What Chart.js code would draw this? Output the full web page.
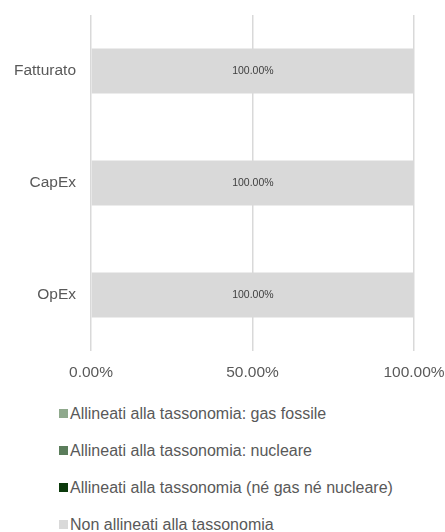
<!DOCTYPE html>
<html>
<head>
<meta charset="utf-8">
<script src="https://cdn.jsdelivr.net/npm/chart.js@4"></script>
<style>
    body { margin: 0; background: #fff; }
    #wrap { position: relative; width: 445px; height: 532px; }
    #box { position: absolute; left: 0; top: 0; width: 445px; height: 392px; }
    #legenda { position: absolute; left: 59px; top: 403px; font-family: "Liberation Sans", Arial, sans-serif; font-size: 16px; color: #595959; }
    .voce { height: 37px; line-height: 22px; white-space: nowrap; }
    .voce span.q { display: inline-block; width: 9px; height: 9px; margin-right: 2px; vertical-align: 1px; }
</style>
</head>
<body>
<div id="wrap">
    <div id="box"><canvas id="grafico"></canvas></div>
    <div id="legenda"></div>
</div>
<script>
// Dati del grafico
const categorie = ['Fatturato', 'CapEx', 'OpEx'];
const gasFossile = [0, 0, 0];
const nucleare = [0, 0, 0];
const neGasNeNucleare = [0, 0, 0];
const nonAllineati = [100, 100, 100];
const tickAsseX = [0, 50, 100];

const nomiSerie = [
    'Allineati alla tassonomia: gas fossile',
    'Allineati alla tassonomia: nucleare',
    'Allineati alla tassonomia (né gas né nucleare)',
    'Non allineati alla tassonomia'
];
const coloriSerie = ['#8fa98c', '#5b7d5b', '#0c3a0c', '#d9d9d9'];
const valoriSerie = [gasFossile, nucleare, neGasNeNucleare, nonAllineati];

const font = 'Liberation Sans, Arial, sans-serif';

// Etichette dentro le barre (solo valori non nulli)
const etichetteBarre = {
    id: 'etichetteBarre',
    afterDatasetsDraw(chart) {
        const ctx = chart.ctx;
        ctx.save();
        ctx.font = '10.5px ' + font;
        ctx.fillStyle = '#404040';
        ctx.textAlign = 'center';
        ctx.textBaseline = 'middle';
        chart.data.datasets.forEach((ds, i) => {
            const meta = chart.getDatasetMeta(i);
            meta.data.forEach((bar, j) => {
                const v = ds.data[j];
                if (!v) return;
                const cx = (bar.x + bar.base) / 2;
                ctx.fillText(v.toFixed(2) + '%', cx, bar.y);
            });
        });
        ctx.restore();
    }
};

// azzera il padding automatico delle scale, decide layout.padding
function senzaPadding(scale) {
    scale.paddingTop = 0;
    scale.paddingBottom = 0;
    scale.paddingLeft = 0;
    scale.paddingRight = 0;
}

const grafico = new Chart(document.getElementById('grafico'), {
    type: 'bar',
    data: {
        labels: categorie,
        datasets: valoriSerie.map((d, i) => ({
            label: nomiSerie[i],
            data: d,
            backgroundColor: coloriSerie[i],
            borderWidth: 0,
            categoryPercentage: 0.8,
            barPercentage: 0.5
        }))
    },
    options: {
        indexAxis: 'y',
        responsive: true,
        maintainAspectRatio: false,
        animation: false,
        layout: { padding: { top: 15, right: 31, left: 0, bottom: 0 } },
        plugins: {
            legend: { display: false },
            tooltip: { enabled: false }
        },
        scales: {
            x: {
                stacked: true,
                min: 0,
                max: 100,
                afterBuildTicks: (scale) => {
                    scale.ticks = tickAsseX.map(v => ({ value: v }));
                },
                afterFit: (scale) => { scale.height = 41; senzaPadding(scale); },
                grid: { color: '#d9d9d9', lineWidth: 1.5, drawTicks: false },
                border: { display: false },
                ticks: {
                    padding: 12,
                    color: '#595959',
                    font: { family: font, size: 15.5 },
                    maxRotation: 0,
                    callback: (v) => Number(v).toFixed(2) + '%'
                }
            },
            y: {
                stacked: true,
                afterFit: (scale) => { scale.width = 91; senzaPadding(scale); },
                grid: { display: false, drawTicks: false },
                border: { display: false },
                ticks: {
                    padding: 15,
                    color: '#595959',
                    font: { family: font, size: 15.5 }
                }
            }
        }
    },
    plugins: [etichetteBarre]
});

// Legenda HTML costruita dai dataset
const legenda = document.getElementById('legenda');
grafico.data.datasets.forEach(ds => {
    const riga = document.createElement('div');
    riga.className = 'voce';
    riga.innerHTML = `<span class="q" style="background:${ds.backgroundColor}"></span>${ds.label}`;
    legenda.appendChild(riga);
});
</script>
</body>
</html>
